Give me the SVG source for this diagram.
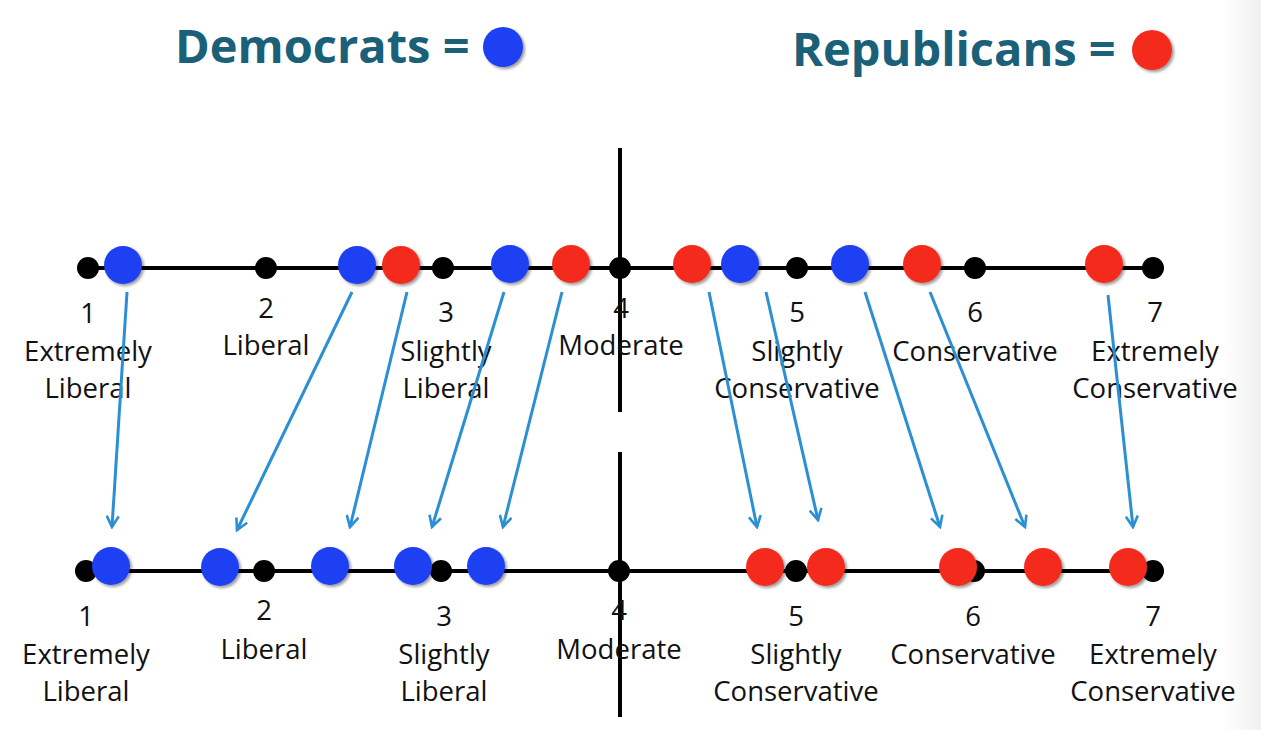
<svg xmlns="http://www.w3.org/2000/svg" width="1261" height="730" viewBox="0 0 1261 730">
<style>
.t{font-family:"Open Sans","Liberation Sans",sans-serif;font-size:27.5px;fill:#111;text-anchor:middle}
.h{font-family:"Open Sans","Liberation Sans",sans-serif;font-size:47px;font-weight:bold;fill:#1b6079}
.ax{stroke:#000;stroke-width:4}
.tk{fill:#000}
.d{fill:#1f3ff2}
.r{fill:#f42c1c}
.a{stroke:#2b8fd4;stroke-width:3;fill:none;marker-end:url(#ah)}
</style>
<defs>
<marker id="ah" viewBox="0 0 14 14" refX="12" refY="7" markerWidth="14" markerHeight="14" markerUnits="userSpaceOnUse" orient="auto">
<polyline points="1,1 12,7 1,13" fill="none" stroke="#2b8fd4" stroke-width="2.6"/>
</marker>
<filter id="sh" x="-30%" y="-30%" width="160%" height="160%"><feGaussianBlur in="SourceAlpha" stdDeviation="1.5"/><feOffset dx="2" dy="2"/><feComponentTransfer><feFuncA type="linear" slope="0.4"/></feComponentTransfer><feMerge><feMergeNode/><feMergeNode in="SourceGraphic"/></feMerge></filter>
<linearGradient id="bg" x1="0" y1="0" x2="1" y2="0"><stop offset="0.97" stop-color="#fff"/><stop offset="1" stop-color="#f0f0f0"/></linearGradient>
</defs>
<rect width="1261" height="730" fill="url(#bg)"/>
<g id="legend">
<text class="h" x="175" y="63">Democrats =</text>
<circle class="d" cx="503" cy="47" r="20" filter="url(#sh)"/>
<text class="h" x="792" y="66">Republicans =</text>
<circle class="r" cx="1152" cy="50" r="20" filter="url(#sh)"/>
</g>
<g id="divider">
<line class="ax" x1="620" y1="148" x2="620" y2="412"/>
<line class="ax" x1="620" y1="452" x2="620" y2="717"/>
</g>
<g id="top-scale">
<line class="ax" x1="88" y1="268" x2="1153" y2="268"/>
<circle class="tk" cx="88" cy="268" r="11"/><circle class="tk" cx="266" cy="268" r="11"/><circle class="tk" cx="443" cy="268" r="11"/><circle class="tk" cx="620" cy="268" r="11"/><circle class="tk" cx="797" cy="268" r="11"/><circle class="tk" cx="975" cy="268" r="11"/><circle class="tk" cx="1153" cy="268" r="11"/>
<g filter="url(#sh)">
<circle class="d" cx="123" cy="265" r="19"/><circle class="d" cx="357" cy="265" r="19"/><circle class="r" cx="401" cy="265" r="19"/><circle class="d" cx="510" cy="264" r="19"/><circle class="r" cx="571" cy="264" r="19"/><circle class="r" cx="692" cy="264" r="19"/><circle class="d" cx="740" cy="264" r="19"/><circle class="d" cx="850" cy="264" r="19"/><circle class="r" cx="922" cy="264" r="19"/><circle class="r" cx="1104" cy="264" r="19"/>
</g>
<text class="t" x="88" y="323">1</text><text class="t" x="88" y="361">Extremely</text><text class="t" x="88" y="398">Liberal</text>
<text class="t" x="266" y="318">2</text><text class="t" x="266" y="355">Liberal</text>
<text class="t" x="446" y="322">3</text><text class="t" x="446" y="361">Slightly</text><text class="t" x="446" y="398">Liberal</text>
<text class="t" x="621" y="318">4</text><text class="t" x="621" y="355">Moderate</text>
<text class="t" x="797" y="322">5</text><text class="t" x="797" y="361">Slightly</text><text class="t" x="797" y="398">Conservative</text>
<text class="t" x="975" y="322">6</text><text class="t" x="975" y="361">Conservative</text>
<text class="t" x="1155" y="322">7</text><text class="t" x="1155" y="361">Extremely</text><text class="t" x="1155" y="398">Conservative</text>
</g>
<g id="bottom-scale">
<line class="ax" x1="86" y1="571" x2="1153" y2="571"/>
<circle class="tk" cx="86" cy="571" r="11"/><circle class="tk" cx="264" cy="571" r="11"/><circle class="tk" cx="441" cy="571" r="11"/><circle class="tk" cx="619" cy="571" r="11"/><circle class="tk" cx="796" cy="571" r="11"/><circle class="tk" cx="974" cy="571" r="11"/><circle class="tk" cx="1153" cy="571" r="11"/>
<g filter="url(#sh)">
<circle class="d" cx="111" cy="566" r="19"/><circle class="d" cx="220" cy="567" r="19"/><circle class="d" cx="330" cy="566" r="19"/><circle class="d" cx="413" cy="566" r="19"/><circle class="d" cx="486" cy="566" r="19"/>
<circle class="r" cx="765" cy="567" r="19"/><circle class="r" cx="826" cy="567" r="19"/><circle class="r" cx="958" cy="567" r="19"/><circle class="r" cx="1043" cy="567" r="19"/><circle class="r" cx="1128" cy="567" r="19"/>
</g>
<text class="t" x="86" y="626">1</text><text class="t" x="86" y="664">Extremely</text><text class="t" x="86" y="701">Liberal</text>
<text class="t" x="264" y="620">2</text><text class="t" x="264" y="659">Liberal</text>
<text class="t" x="444" y="626">3</text><text class="t" x="444" y="664">Slightly</text><text class="t" x="444" y="701">Liberal</text>
<text class="t" x="619" y="620">4</text><text class="t" x="619" y="659">Moderate</text>
<text class="t" x="796" y="626">5</text><text class="t" x="796" y="664">Slightly</text><text class="t" x="796" y="701">Conservative</text>
<text class="t" x="973" y="626">6</text><text class="t" x="973" y="664">Conservative</text>
<text class="t" x="1153" y="626">7</text><text class="t" x="1153" y="664">Extremely</text><text class="t" x="1153" y="701">Conservative</text>
</g>
<g id="connectors">
<line class="a" x1="127" y1="292" x2="112" y2="527"/>
<line class="a" x1="352" y1="292" x2="237" y2="530"/>
<line class="a" x1="407" y1="292" x2="350" y2="527"/>
<line class="a" x1="504" y1="292" x2="432" y2="527"/>
<line class="a" x1="562" y1="292" x2="503" y2="527"/>
<line class="a" x1="709" y1="292" x2="757" y2="527"/>
<line class="a" x1="766" y1="292" x2="818" y2="520"/>
<line class="a" x1="865" y1="292" x2="940" y2="527"/>
<line class="a" x1="930" y1="292" x2="1025" y2="527"/>
<line class="a" x1="1108" y1="295" x2="1133" y2="527"/>
</g>
</svg>
